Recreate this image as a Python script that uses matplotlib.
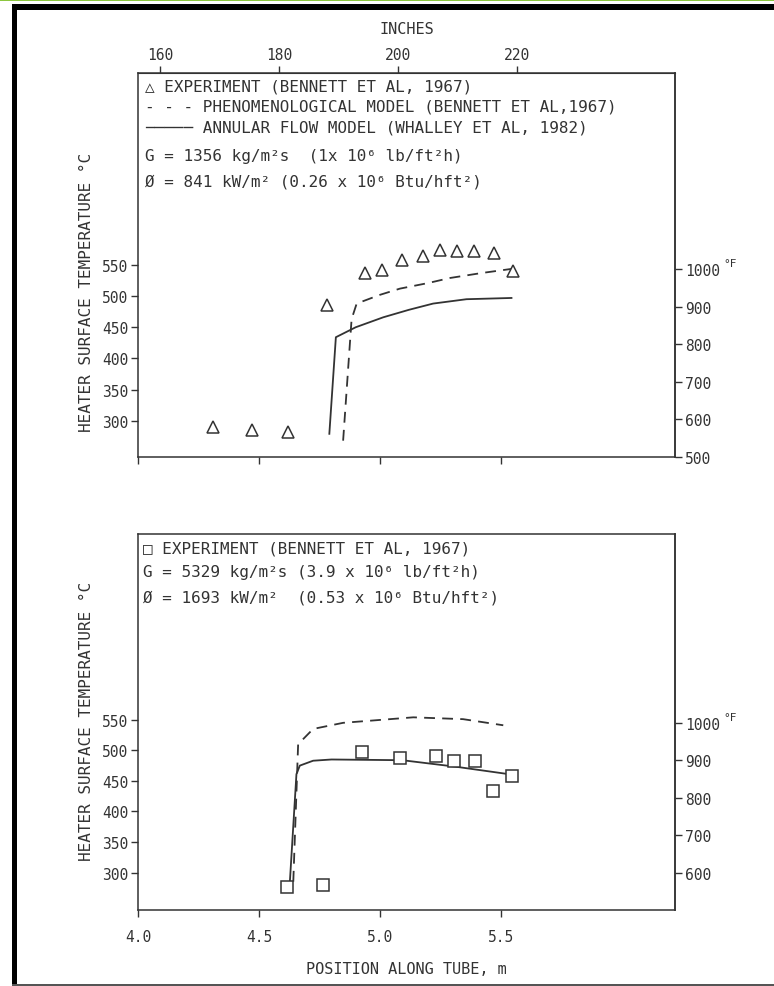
"""
Heater surface temperature vs. position along tube (Bennett et al. 1967 data,
phenomenological model and annular flow model), redrawn from a scanned figure.
"""

import matplotlib
matplotlib.use("Agg")
import matplotlib.pyplot as plt
from matplotlib.patches import Rectangle
from matplotlib.transforms import blended_transform_factory

INK = "#333333"

# ---- upper panel: G = 1356 kg/m2s ----
top_exp_x = [4.31, 4.47, 4.62, 4.78, 4.94, 5.01, 5.09, 5.18, 5.25, 5.32, 5.39, 5.47, 5.55]
top_exp_t = [290, 285, 282, 486, 537, 542, 558, 565, 574, 573, 573, 569, 541]

top_phen_x = [4.848, 4.883, 4.904, 5.0, 5.083, 5.2, 5.289, 5.42, 5.551]
top_phen_t = [268, 463, 488, 502, 512, 521, 529, 537, 544]

top_ann_x = [4.791, 4.818, 4.9, 5.014, 5.12, 5.22, 5.358, 5.544]
top_ann_t = [279, 434, 450, 466, 478, 488, 495, 497]

# ---- lower panel: G = 5329 kg/m2s ----
bot_exp_x = [4.614, 4.766, 4.928, 5.085, 5.231, 5.307, 5.395, 5.468, 5.548]
bot_exp_t = [277, 280, 498, 488, 491, 482, 482, 434, 458]

bot_phen_x = [4.642, 4.662, 4.724, 4.848, 5.041, 5.138, 5.344, 5.51]
bot_phen_t = [285, 510, 535, 545, 551, 554, 551, 541]

bot_ann_x = [4.628, 4.655, 4.669, 4.724, 4.8, 5.05, 5.11, 5.317, 5.551]
bot_ann_t = [286, 461, 475, 483, 485, 484, 483, 473, 460]

x_ticks = [4.0, 4.5, 5.0, 5.5]
x_tick_labels = ["4.0", "4.5", "5.0", "5.5"]
inch_ticks = [160, 180, 200, 220]
c_ticks = [300, 350, 400, 450, 500, 550]
f_ticks = [500, 600, 700, 800, 900, 1000]

# (symbol, text, y pixel)
top_legend = [
    ("\u25b3 ", "EXPERIMENT (BENNETT ET AL, 1967)", 87),
    ("- - - ", "PHENOMENOLOGICAL MODEL (BENNETT ET AL,1967)", 107),
    ("\u2500\u2500\u2500\u2500\u2500 ", "ANNULAR FLOW MODEL (WHALLEY ET AL, 1982)", 128),
    ("", "G = 1356 kg/m\u00b2s  (1x 10\u2076 lb/ft\u00b2h)", 157),
    ("", "\u00d8 = 841 kW/m\u00b2 (0.26 x 10\u2076 Btu/hft\u00b2)", 182),
]
bot_legend = [
    ("\u25a1 ", "EXPERIMENT (BENNETT ET AL, 1967)", 549),
    ("", "G = 5329 kg/m\u00b2s (3.9 x 10\u2076 lb/ft\u00b2h)", 573),
    ("", "\u00d8 = 1693 kW/m\u00b2  (0.53 x 10\u2076 Btu/hft\u00b2)", 598),
]

FS = 11
plt.rcParams["font.family"] = ["DejaVu Sans Mono", "DejaVu Sans"]
plt.rcParams["font.size"] = FS
plt.rcParams["text.color"] = INK
plt.rcParams["axes.edgecolor"] = INK
plt.rcParams["xtick.color"] = INK
plt.rcParams["ytick.color"] = INK
plt.rcParams["axes.labelcolor"] = INK

W, H = 774, 987
fig = plt.figure(figsize=(W / 100, H / 100), dpi=100)

# scan border: green line, black frame on top and left, grey bottom line
fig.add_artist(Rectangle((0, 1 - 2 / H), 1, 2 / H, transform=fig.transFigure, color="#8cc63f", lw=0))
fig.add_artist(Rectangle((12 / W, 1 - 11 / H), 1, 6 / H, transform=fig.transFigure, color="black", lw=0))
fig.add_artist(Rectangle((12 / W, 2 / H), 5 / W, 1 - 13 / H, transform=fig.transFigure, color="black", lw=0))
fig.add_artist(Rectangle((12 / W, 0), 1, 2 / H, transform=fig.transFigure, color="#555555", lw=0))


def panel(rect, ylim, c1000, k):
    ax = fig.add_axes(rect)
    ax.set_xlim(4.0, 6.22)
    ax.set_ylim(*ylim)
    for s in ax.spines.values():
        s.set_linewidth(1.1)
    ax.tick_params(direction="out", length=5, width=1, labelsize=FS - 0.5, pad=2)
    ax.set_yticks(c_ticks)
    ax.set_xticks(x_ticks)
    ax.set_ylabel("HEATER SURFACE TEMPERATURE \u00b0C", fontsize=FS + 0.5)

    def c2f(c):
        return 1000 + k * (c - c1000)

    def f2c(f):
        return c1000 + (f - 1000) / k

    sec = ax.secondary_yaxis("right", functions=(c2f, f2c))
    sec.set_yticks(f_ticks)
    sec.tick_params(direction="out", length=5, width=1, labelsize=FS - 0.5, pad=2)
    sec.spines["right"].set_linewidth(1.1)
    tr = blended_transform_factory(ax.transAxes, ax.transData)
    ax.text(1.09, c1000 + 2, "\u00b0F", transform=tr, fontsize=8, va="bottom", ha="left")
    return ax


def legend_lines(ax, rows, x_px):
    for sym, txt, yy in rows:
        ax.text(x_px / W, 1 - yy / H, sym + txt, transform=fig.transFigure,
                fontsize=FS + 0.5, va="center", ha="left")


# upper panel
ax1 = panel([138 / W, 1 - 458 / H, 537 / W, 384 / H], (241.8, 858), 543.6, 1.657)
ax1.set_xticklabels([])
ax1.yaxis.set_label_coords(-0.082, 0.43)
ax1.plot(top_phen_x, top_phen_t, color=INK, lw=1.3, ls=(0, (6, 4)))
ax1.plot(top_ann_x, top_ann_t, color=INK, lw=1.3)
ax1.plot(top_exp_x, top_exp_t, ls="none", marker="^", ms=9, mfc="white", mec=INK, mew=1.1)

# inch scale as drawn on the original (160 in at 4.093 m, 0.02459 m per inch)
inch = ax1.secondary_xaxis(
    "top",
    functions=(lambda m: 160 + (m - 4.093) / 0.02459, lambda i: 4.093 + (i - 160) * 0.02459),
)
inch.set_xticks(inch_ticks)
inch.tick_params(direction="out", length=5, width=1, labelsize=FS - 0.5, pad=3)
inch.set_xlabel("INCHES", fontsize=FS, labelpad=10)
legend_lines(ax1, top_legend, 145)

# lower panel
ax2 = panel([138 / W, 1 - 911 / H, 537 / W, 376 / H], (238.7, 854), 544.6, 1.634)
ax2.set_xticklabels(x_tick_labels)
ax2.tick_params(axis="x", pad=9)
ax2.yaxis.set_label_coords(-0.082, 0.505)
ax2.set_xlabel("POSITION ALONG TUBE, m", fontsize=FS, labelpad=12)
ax2.plot(bot_phen_x, bot_phen_t, color=INK, lw=1.3, ls=(0, (6, 4)))
ax2.plot(bot_ann_x, bot_ann_t, color=INK, lw=1.3)
ax2.plot(bot_exp_x, bot_exp_t, ls="none", marker="s", ms=8, mfc="white", mec=INK, mew=1.1)
legend_lines(ax2, bot_legend, 143)

fig.savefig("out.png", dpi=100, facecolor="white")
